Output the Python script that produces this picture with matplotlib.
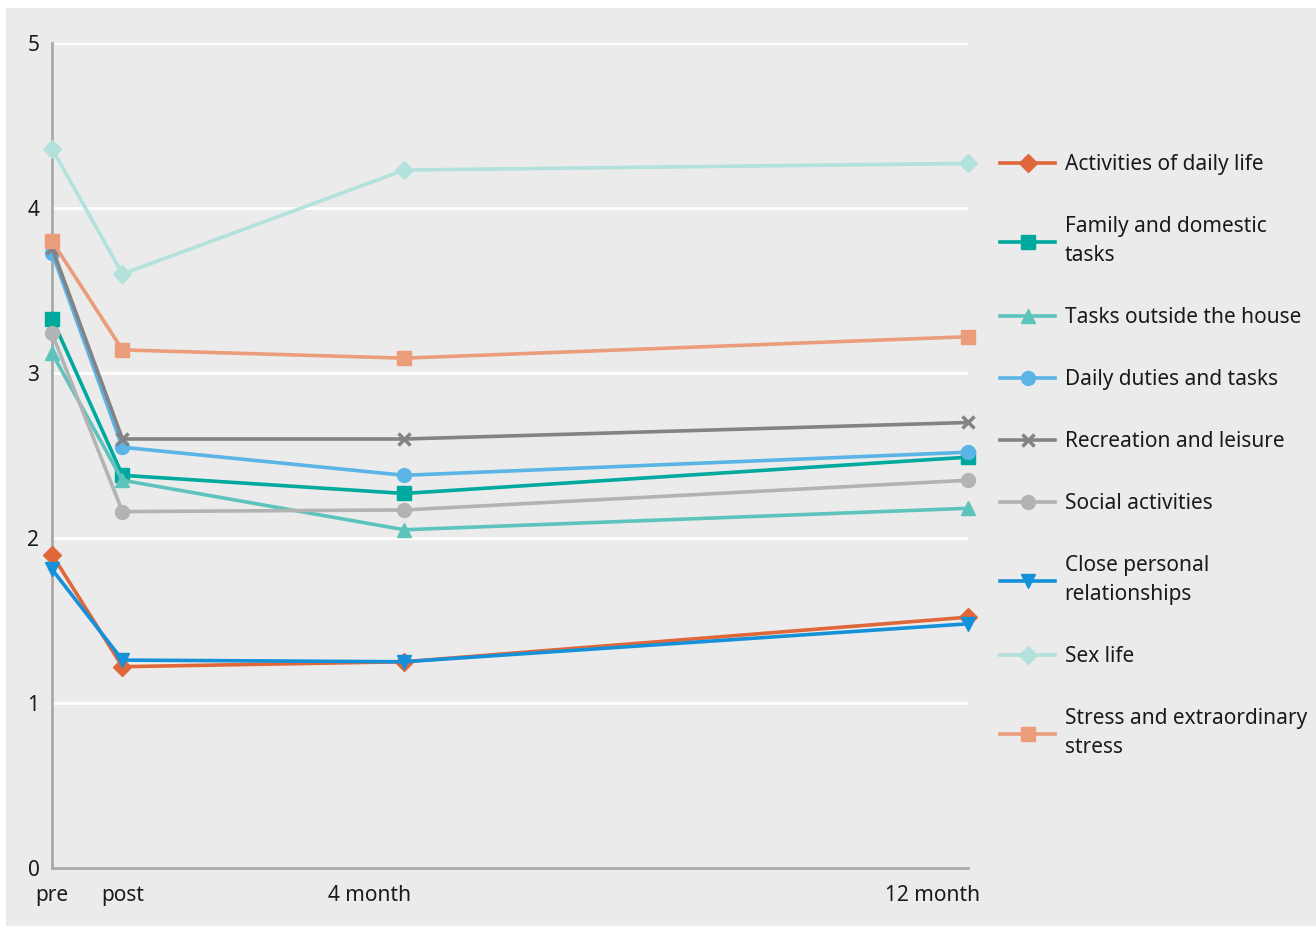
import matplotlib
matplotlib.use("Agg")
import matplotlib.pyplot as plt
from matplotlib.patches import Rectangle

plt.rcParams['font.family'] = ['Noto Sans', 'DejaVu Sans']

# time points (axis units) and their labels
times = [0, 1, 5, 13]
time_labels = ['pre', 'post', '4 month', '12 month']
label_pos = [0, 1, 4.5, 12.5]

names = ['Activities of daily life', 'Family and domestic\ntasks',
         'Tasks outside the house', 'Daily duties and tasks',
         'Recreation and leisure', 'Social activities',
         'Close personal\nrelationships', 'Sex life',
         'Stress and extraordinary\nstress']

adl = [1.90, 1.22, 1.25, 1.52]
family = [3.33, 2.38, 2.27, 2.49]
outside = [3.12, 2.35, 2.05, 2.18]
duties = [3.73, 2.55, 2.38, 2.52]
recreation = [3.76, 2.60, 2.60, 2.70]
social = [3.24, 2.16, 2.17, 2.35]
personal = [1.81, 1.26, 1.25, 1.48]
sexlife = [4.36, 3.60, 4.23, 4.27]
stress = [3.80, 3.14, 3.09, 3.22]

series = [adl, family, outside, duties, recreation, social, personal, sexlife, stress]
colors = ['#e0673a', '#00a99d', '#5cc4bc', '#5ab4e6', '#838385',
          '#b1b3b5', '#1591d9', '#b3e1db', '#eb9c7a']
markers = ['D', 's', '^', 'o', 'x', 'o', 'v', 'D', 's']

fig = plt.figure(figsize=(13.16, 9.26), dpi=100, facecolor='white')
bg = Rectangle((6/1316, 0), 1, 1 - 8/926, transform=fig.transFigure,
               facecolor='#ebebeb', edgecolor='none', zorder=-10)
fig.add_artist(bg)
ax = fig.add_axes([52/1316, 58/926, 916/1316, 825/926])
ax.set_zorder(1)
ax.set_facecolor('#ebebeb')

for vals, name, c, m in zip(series, names, colors, markers):
    ms = 9 if m in ('D', 'x') else 10
    mew = 2.5 if m == 'x' else 1
    ax.plot(times, vals, color=c, lw=2.6, marker=m, ms=ms, mew=mew,
            label=name, clip_on=False, zorder=3)

ax.set_xlim(0, 13)
ax.set_ylim(0, 5)
ax.set_yticks([0, 1, 2, 3, 4, 5])
ax.set_xticks(label_pos)
ax.set_xticklabels(time_labels)
ax.grid(axis='y', color='white', lw=2)
ax.set_axisbelow(True)
for s in ['top', 'right']:
    ax.spines[s].set_visible(False)
for s in ['left', 'bottom']:
    ax.spines[s].set_color('#a9a9ab')
    ax.spines[s].set_linewidth(2)
ax.tick_params(length=0, labelsize=15, colors='#1a1a1a')
ax.tick_params(axis='x', pad=12)
ax.tick_params(axis='y', pad=9)

leg = fig.legend(loc='upper left', bbox_to_anchor=(1000/1316, 1 - 154/926),
                 frameon=False, fontsize=15, handlelength=2.65,
                 handletextpad=0.45, labelspacing=1.97,
                 borderpad=0, borderaxespad=0)
for t in leg.get_texts():
    t.set_linespacing(1.5)
    t.set_color('#1a1a1a')

fig.savefig('out.png', dpi=100, facecolor=fig.get_facecolor())
